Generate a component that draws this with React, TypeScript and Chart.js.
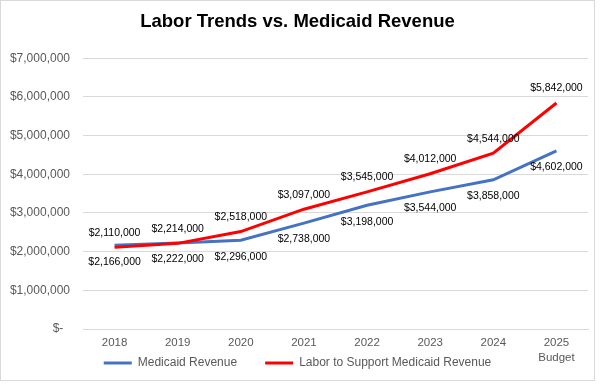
import React, { useEffect, useRef } from "react";
import { Chart, registerables } from "chart.js";

Chart.register(...registerables);

const chartTitle = "Labor Trends vs. Medicaid Revenue";
const xLabels: (string | string[])[] = ["2018", "2019", "2020", "2021", "2022", "2023", "2024", ["2025", "Budget"]];
const seriesNames = ["Medicaid Revenue", "Labor to Support Medicaid Revenue"];
const medicaidRevenue = [2166000, 2222000, 2296000, 2738000, 3198000, 3544000, 3858000, 4602000];
const laborSupport = [2110000, 2214000, 2518000, 3097000, 3545000, 4012000, 4544000, 5842000];
const yMin = 0;
const yMax = 7000000;
const yStep = 1000000;

const FONT = "'Liberation Sans', Arial, sans-serif";

const fmtMoney = (v: number) => "$" + Number(v).toLocaleString("en-US");

const dataLabelPlugin = {
  id: "dataLabels",
  afterDatasetsDraw(chart: any) {
    const ctx = chart.ctx;
    ctx.save();
    ctx.font = `10.5px ${FONT}`;
    ctx.fillStyle = "#000000";
    ctx.textAlign = "center";
    ctx.textBaseline = "middle";
    chart.data.datasets.forEach((ds: any, i: number) => {
      const meta = chart.getDatasetMeta(i);
      const off = i === 0 ? 16.5 : -14.5;
      meta.data.forEach((pt: any, j: number) => {
        ctx.fillText(fmtMoney(ds.data[j]), pt.x, pt.y + off);
      });
    });
    ctx.restore();
  },
};

// The x axis takes no layout height (so the legend sits beside the "Budget" line, as in
// the reference); after layout, give it room again so its labels are not clipped.
const xLabelRoomPlugin = {
  id: "xLabelRoom",
  afterLayout(chart: any) {
    const s = chart.scales.x;
    s.height = 45;
    s.bottom = s.top + 45;
  },
};

export default function App() {
  const canvasRef = useRef<HTMLCanvasElement | null>(null);

  useEffect(() => {
    const canvas = canvasRef.current;
    if (!canvas) return;
    const chart = new Chart(canvas, {
      type: "line",
      data: {
        labels: xLabels as any,
        datasets: [
          {
            label: seriesNames[0],
            data: medicaidRevenue,
            borderColor: "#4472C4",
            backgroundColor: "#4472C4",
            borderWidth: 3,
            pointRadius: 0,
            tension: 0,
            fill: false,
            order: 1,
          },
          {
            label: seriesNames[1],
            data: laborSupport,
            borderColor: "#FF0000",
            backgroundColor: "#FF0000",
            borderWidth: 3,
            pointRadius: 0,
            tension: 0,
            fill: false,
            order: 0,
          },
        ],
      },
      options: {
        responsive: false,
        animation: false,
        layout: { padding: { left: 6, right: 6, top: 0, bottom: 1 } },
        plugins: {
          title: {
            display: true,
            text: chartTitle,
            color: "#000000",
            font: { family: FONT, size: 18.5, weight: "bold" },
            padding: { top: 10, bottom: 25 },
          },
          legend: {
            position: "bottom",
            labels: {
              boxWidth: 28,
              boxHeight: 3,
              padding: 28,
              color: "#595959",
              font: { family: FONT, size: 12 },
              generateLabels: (c: any) =>
                (Chart.defaults.plugins.legend.labels.generateLabels as any)(c)
                  .map((l: any) => ({ ...l, lineWidth: 0 }))
                  .sort((a: any, b: any) => a.datasetIndex - b.datasetIndex),
            },
          },
          tooltip: { enabled: false },
        },
        scales: {
          x: {
            offset: true,
            grid: { display: false, drawTicks: false },
            border: { color: "#d9d9d9" },
            ticks: {
              color: "#595959",
              font: { family: FONT, size: 11.5, lineHeight: 1.3 },
              padding: 6.5,
              maxRotation: 0,
              autoSkip: false,
            },
            afterFit: (s: any) => {
              s.height = 0;
            },
          },
          y: {
            min: yMin,
            max: yMax,
            grid: { color: "#d9d9d9", drawTicks: false },
            border: { display: false },
            ticks: {
              stepSize: yStep,
              padding: 13,
              color: "#595959",
              font: { family: FONT, size: 12 },
              callback: (v: any) => (Number(v) === 0 ? "$-  " : fmtMoney(Number(v))),
            },
            afterFit: (s: any) => {
              s.width = 76;
            },
          },
        },
      } as any,
      plugins: [dataLabelPlugin, xLabelRoomPlugin],
    });
    return () => chart.destroy();
  }, []);

  return (
    <div
      style={{
        position: "absolute",
        left: 0,
        top: 0,
        width: 595,
        height: 381,
        border: "1px solid #d9d9d9",
        boxSizing: "border-box",
        background: "#ffffff",
      }}
    >
      <canvas ref={canvasRef} width={593} height={379} style={{ display: "block", width: 593, height: 379 }} />
    </div>
  );
}
